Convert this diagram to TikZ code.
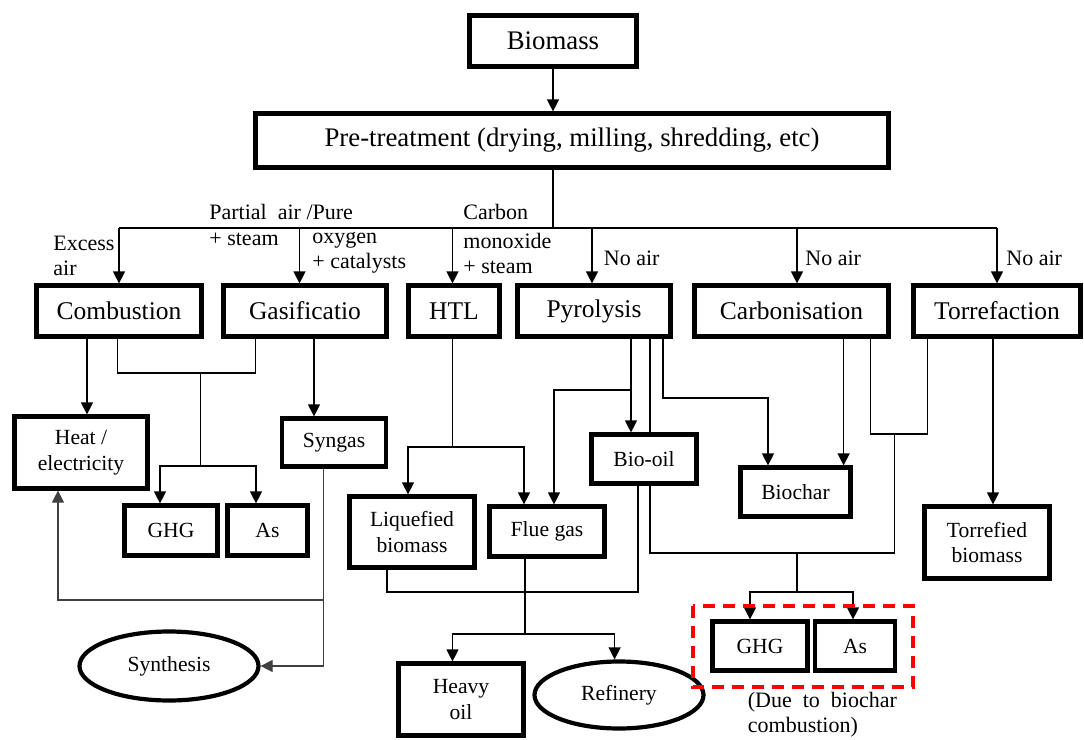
\documentclass[tikz,border=0pt]{standalone}
\usepackage{fontspec}
\setmainfont{Liberation Serif}
\usetikzlibrary{arrows.meta,shapes.geometric}

\begin{document}
\begin{tikzpicture}[x=0.5pt,y=-0.5pt,>={Triangle[length=6pt,width=6pt]},
  topbox/.style={draw,line width=2.1pt,inner sep=0pt,font=\fontsize{13.4}{16}\selectfont},
  procbox/.style={draw,line width=2.1pt,inner sep=0pt,minimum height=25.5pt,font=\fontsize{12.75}{15}\selectfont},
  prodbox/.style={draw,line width=2.1pt,inner sep=0pt,align=center,font=\fontsize{10.8}{12.8}\selectfont},
  prodoval/.style={draw,ellipse,line width=2.1pt,inner sep=0pt,font=\fontsize{10.8}{12.8}\selectfont},
  note/.style={inner sep=0pt,align=left,anchor=west,font=\fontsize{11}{12.5}\selectfont},
  link/.style={line width=0.6pt}]
  \useasboundingbox (0,0) rectangle (1084,740);

  % feedstock
  \node[topbox,minimum width=83.5pt,minimum height=25.5pt] (bio) at (553,41) {Biomass};
  \node[topbox,minimum width=316.5pt,minimum height=27pt] (pre) at (572,140.5) {Pre-treatment (drying, milling, shredding, etc)};

  % conversion routes
  \node[procbox,minimum width=82.5pt] (comb) at (119,311) {Combustion};
  \node[procbox,minimum width=81.5pt] (gas) at (305,311) {Gasificatio};
  \node[procbox,minimum width=45.5pt] (htl) at (454,311) {HTL};
  \node[procbox,minimum width=76.5pt] (pyr) at (594,311) {Pyrolysis};
  \node[procbox,minimum width=97pt] (carb) at (791.5,311) {Carbonisation};
  \node[procbox,minimum width=83.5pt] (torr) at (997,311) {Torrefaction};

  % products
  \node[prodbox,minimum width=66.5pt,minimum height=36pt] (heat) at (81,452.5) {Heat /\\electricity};
  \node[prodbox,minimum width=52pt,minimum height=24pt] (syngas) at (334,442.5) {Syngas};
  \node[prodbox,minimum width=46.5pt,minimum height=25pt] (ghg) at (171,530.5) {GHG};
  \node[prodbox,minimum width=40pt,minimum height=25pt] (as) at (267.5,530.5) {As};
  \node[prodbox,minimum width=62.5pt,minimum height=35.5pt] (liq) at (412,532) {Liquefied\\biomass};
  \node[prodbox,minimum width=57.5pt,minimum height=25pt] (flue) at (547,531.5) {Flue gas};
  \node[prodbox,minimum width=52.5pt,minimum height=24.5pt] (biooil) at (644,459) {Bio-oil};
  \node[prodbox,minimum width=55pt,minimum height=24.5pt] (biochar) at (795.5,492) {Biochar};
  \node[prodbox,minimum width=62.5pt,minimum height=36pt] (torrefied) at (987,542.5) {Torrefied\\biomass};
  \node[prodbox,minimum width=47.5pt,minimum height=24.5pt] (ghg2) at (760,646) {GHG};
  \node[prodbox,minimum width=40pt,minimum height=24.5pt] (as2) at (855,646) {As};
  \node[prodbox,minimum width=62.5pt,minimum height=36pt] (heavy) at (461,699.5) {Heavy\\oil};
  \node[prodoval,minimum width=84.5pt,minimum height=33.5pt] (refinery) at (619,695) {Refinery};
  \node[prodoval,minimum width=89.5pt,minimum height=34.5pt] (synth) at (169,666) {Synthesis};

  % route conditions
  \node[note] (excess) at (53,256) {Excess\\air};
  \node[note] (partial) at (209,212) {Partial\ \ air /Pure};
  \node[note] (steamg) at (209,239) {+ steam};
  \node[note] (oxygen) at (312,253) {oxygen\\+ catalysts};
  \node[note] (carbon) at (463,212) {Carbon};
  \node[note] (monox) at (463,253) {monoxide\\+ steam};
  \node[note] (noair1) at (603.5,258) {No air};
  \node[note] (noair2) at (805,258) {No air};
  \node[note] (noair3) at (1006,258) {No air};
  \node[note] (due) at (747.5,714.5) {(Due\ \ to\ \ biochar\\combustion)};

  % top feed
  \coordinate (split) at (553,228);
  \draw[link,->] (bio.south) -- (bio.south |- pre.north);
  \draw[link] (split |- pre.south) -- (split);
  \draw[link] (comb.north |- split) -- (torr.north |- split);
  \foreach \n/\x in {comb/119,gas/299.5,htl/452.5,pyr/592,carb/797,torr/997}
    \draw[link,->] (\x,228) -- (\x,228 |- \n.north);

  % combustion and gasification
  \draw[link,->] (87,0 |- comb.south) -- (87,0 |- heat.north);
  \draw[link] (117.5,0 |- comb.south) |- (255.7,373) -- (255.7,0 |- gas.south);
  \draw[link] (200.6,373) -- (200.6,466);
  \draw[link,->] (200.6,466) -| (160,0 |- ghg.north);
  \draw[link,->] (200.6,466) -| (256,0 |- as.north);
  \draw[link,->] (314,0 |- gas.south) -- (314,0 |- syngas.north);
  \draw[link,draw=black!75,->] (323.4,0 |- syngas.south) |- (synth.east);
  \draw[link,draw=black!75,->] (323.4,600) -| (58,0 |- heat.south);

  % HTL
  \draw[link] (452.5,0 |- htl.south) -- (452.5,447);
  \draw[link,->] (452.5,447) -| (408,0 |- liq.north);
  \draw[link,->] (452.5,447) -| (524,0 |- flue.north);

  % pyrolysis
  \draw[link,->] (631,0 |- pyr.south) -- (631,0 |- biooil.north);
  \draw[link,->] (631,390) -| (554,0 |- flue.north);
  \draw[link] (650,0 |- pyr.south) -- (650,0 |- biooil.north);
  \draw[link,->] (663,0 |- pyr.south) |- (768,398) -- (768,0 |- biochar.north);

  % carbonisation and torrefaction
  \draw[link,->] (843.6,0 |- carb.south) -- (843.6,0 |- biochar.north);
  \draw[link] (870.7,0 |- carb.south) |- (927.6,434) -- (927.6,0 |- torr.south);
  \draw[link,->] (993,0 |- torr.south) -- (993,0 |- torrefied.north);
  \draw[link] (894.6,434) -- (894.6,553);

  % biochar combustion
  \draw[link] (650,0 |- biooil.south) |- (894.6,553);
  \draw[link] (797,553) -- (797,592);
  \draw[link,->] (797,592) -| (750,0 |- ghg2.north);
  \draw[link,->] (797,592) -| (853,0 |- as2.north);
  \draw[red,line width=2pt,dash pattern=on 6pt off 4pt] (692.7,606) rectangle (913,687);
  \draw[link] (638,0 |- biooil.south) |- (387,592) -- (387,0 |- liq.south);

  % flue gas
  \draw[link] (525,0 |- flue.south) -- (525,634);
  \draw[link,->] (525,634) -| (452.5,0 |- heavy.north);
  \draw[link,->] (525,634) -| (614.6,0 |- refinery.north);
\end{tikzpicture}
\end{document}
